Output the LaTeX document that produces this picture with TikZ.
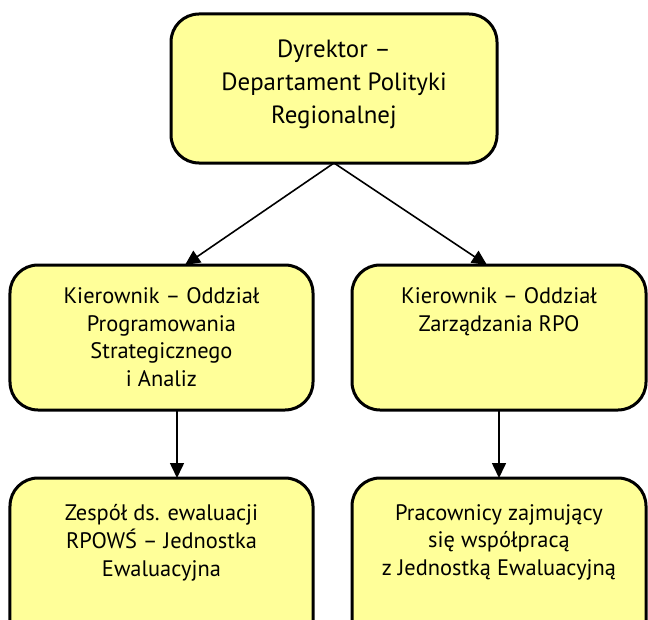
\documentclass[tikz,border=0pt]{standalone}
\usepackage{fontspec}
\setmainfont{PT Sans}
\usetikzlibrary{arrows.meta}
\definecolor{boxfill}{RGB}{255,255,153}
\begin{document}
\begin{tikzpicture}[x=1bp,y=-1bp,
  box/.style={draw=black, line width=3bp, fill=boxfill, rounded corners=28bp,
    inner sep=0pt, outer sep=0pt},
  lbl/.style={anchor=north, align=center, inner sep=0pt},
  bigtxt/.style={font=\fontsize{25}{33}\selectfont},
  smalltxt/.style={font=\fontsize{22.5}{28}\selectfont},
  conn/.style={line width=1.6bp, -{Triangle[length=15bp,width=14bp]}}]
\useasboundingbox (0,0) rectangle (648,620);
\clip (0,0) rectangle (648,620);
% boxes
\node[box, minimum width=326bp, minimum height=149bp] (dyr) at (334,88.5) {};
\node[box, minimum width=303bp, minimum height=145bp] (kpa) at (161.5,337.5) {};
\node[box, minimum width=294bp, minimum height=145bp] (kzr) at (499,337.5) {};
\node[box, minimum width=303bp, minimum height=182bp] (zes) at (161.5,569) {};
\node[box, minimum width=294bp, minimum height=182bp] (pra) at (499,569) {};
% texts
\node[lbl, bigtxt] (tdyr) at ([yshift=-25.5bp]dyr.north) {Dyrektor –\\Departament Polityki\\Regionalnej};
\node[lbl, smalltxt] (tkpa) at ([yshift=-22bp]kpa.north) {Kierownik – Oddział\\Programowania\\Strategicznego\\i Analiz};
\node[lbl, smalltxt] (tkzr) at ([yshift=-22bp]kzr.north) {Kierownik – Oddział\\Zarządzania RPO};
\node[lbl, smalltxt] (tzes) at ([yshift=-26bp]zes.north) {Zespół ds. ewaluacji\\RPOWŚ – Jednostka\\Ewaluacyjna};
\node[lbl, smalltxt] (tpra) at ([yshift=-26bp]pra.north) {Pracownicy zajmujący\\się współpracą\\z Jednostką Ewaluacyjną};
% connectors
\draw[conn] (dyr.south) -- ([xshift=23.5bp]kpa.north);
\draw[conn] (dyr.south) -- ([xshift=-12bp]kzr.north);
\draw[conn] ([xshift=15.5bp]kpa.south) -- ([xshift=15.5bp]zes.north);
\draw[conn] (kzr.south) -- (pra.north);
\end{tikzpicture}
\end{document}
